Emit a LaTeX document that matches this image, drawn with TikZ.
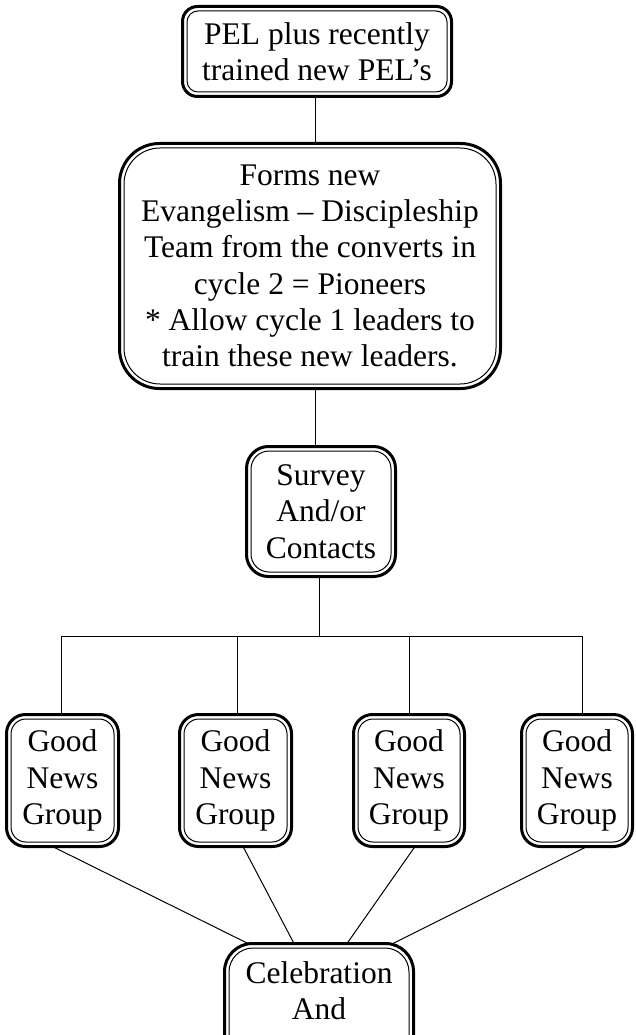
\documentclass[tikz,border=0pt]{standalone}
\usepackage{fontspec}
\setmainfont{Liberation Serif}
\usetikzlibrary{calc}
% inner thin frame of a double-bordered box
\newcommand\innerframe[2]{%
  \draw[line width=1pt, rounded corners=#2]
    ($(#1.south west)+(4.5,4.5)$) rectangle ($(#1.north east)-(4.5,4.5)$);}
\begin{document}
\begin{tikzpicture}[x=1pt,y=1pt,
  boxtext/.style={font={\fontsize{31.5}{36.3}\selectfont}, align=center},
  dbox/.style={draw, line width=3pt, rounded corners=#1, inner sep=0pt,
    outer sep=0pt, boxtext},
  link/.style={line width=1pt}]
\useasboundingbox (0,0) rectangle (635,-1035);
\clip (0,0) rectangle (635,-1035);

% boxes
\node[dbox=15, minimum width=269, minimum height=90] (top) at (317,-51.5)
  {PEL plus recently\\trained new PEL’s};
\innerframe{top}{11}
\node[dbox=40, minimum width=381, minimum height=245] (forms) at (310,-266)
  {Forms new\\Evangelism – Discipleship\\Team from the converts in\\cycle 2 = Pioneers\\* Allow cycle 1 leaders to\\train these new leaders.};
\innerframe{forms}{36}
\node[dbox=22, minimum width=149, minimum height=130] (survey) at (321,-511.5)
  {Survey\\And/or\\Contacts};
\innerframe{survey}{18}

\foreach \n/\x/\w in {g1/62.5/112, g2/235.5/112, g3/409/111, g4/577/111}{
  \node[dbox=19, minimum width=\w, minimum height=132] (\n) at (\x,-780.5)
    {Good\\News\\Group};
  \innerframe{\n}{15}
}

\node[dbox=28, minimum width=189, minimum height=150, anchor=north] (cel)
  at (319,-943.5) {};
\innerframe{cel}{24}
\node[boxtext] (celtext) at (cel.north |- 0,-991) {Celebration\\And};

% connectors
\coordinate (c1) at (315,0);
\draw[link] (c1 |- top.south) -- (c1 |- forms.north);
\draw[link] (c1 |- forms.south) -- (c1 |- survey.north);

\coordinate (hub) at (319,-636);
\coordinate (b1) at (61,-636);
\coordinate (b2) at (237,-636);
\coordinate (b3) at (409,-636);
\coordinate (b4) at (582,-636);
\draw[link] (survey.south -| hub) -- (hub);
\draw[link] (b1 |- g1.north) -- (b1) -- (b4) -- (b4 |- g4.north);
\draw[link] (b2) -- (b2 |- g2.north);
\draw[link] (b3) -- (b3 |- g3.north);

\draw[link] ($(g1.south)+(-10,0)$) -- ($(cel.north)+(-71,0)$);
\draw[link] ($(g2.south)+(7.5,0)$) -- ($(cel.north)+(-25,0)$);
\draw[link] ($(g3.south)+(6,0)$) -- ($(cel.north)+(28,0)$);
\draw[link] ($(g4.south)+(10,0)$) -- ($(cel.north)+(74,0)$);
\end{tikzpicture}
\end{document}
